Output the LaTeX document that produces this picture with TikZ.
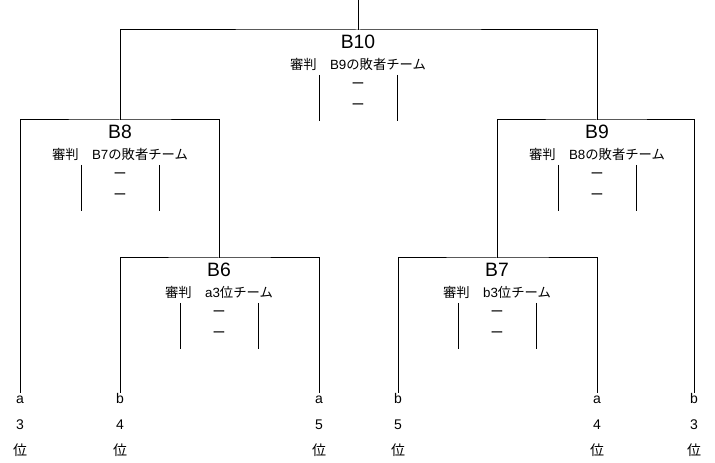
\documentclass[tikz,border=0pt]{standalone}
\usepackage{fontspec}
\setmainfont{Liberation Sans}
\newfontfamily\jp{Noto Sans CJK JP}
\usetikzlibrary{positioning}

\tikzset{
  game/.style={font=\fontsize{14.5}{16}\selectfont, inner sep=0pt},
  judge/.style={font=\fontsize{10}{11}\selectfont, inner sep=0pt},
  scoremark/.style={font=\jp\fontsize{10}{11}\selectfont, inner sep=0pt},
  team/.style={font=\fontsize{10.5}{19.5}\selectfont, align=center, inner sep=0pt, anchor=north},
  bracket/.style={line width=0.75pt}
}

\begin{document}
\begin{tikzpicture}[x=0.75pt, y=-0.75pt, bracket]
  \useasboundingbox (0,0) rectangle (715,463);

  % teams at the bottom
  \foreach \x/\l/\n/\name in {20/a/3/ta3, 120/b/4/tb4, 319/a/5/ta5, 398/b/5/tb5, 597/a/4/ta4, 694/b/3/tb3}
  \node[team] (\name) at (\x,393) {\vphantom{b}\l\\\n\\{\jp 位}};

  % games with judge and score box
  \foreach \g/\x/\y/\who/\tm in {10/358/30/B9/の敗者, 8/120/120/B7/の敗者, 9/597/120/B8/の敗者, 6/219/258/a3/位, 7/497/258/b3/位} {
    \coordinate (j\g) at (\x,\y);
    \node[game] (g\g) at (\x,\y+11.5) {B\g};
    \node[judge] (r\g) at (\x,\y+34) {{\jp 審判　}\who{\jp \tm チーム}};
    \node[scoremark] (s\g a) at (\x,\y+55.5) {ー};
    \node[scoremark] (s\g b) at (\x,\y+77) {ー};
    \draw (\x-39,\y+45) -- (\x-39,\y+91);
    \draw (\x+39,\y+45) -- (\x+39,\y+91);
  }

  \coordinate (champ) at (358,0);
  \draw (champ) -- (j10);
  \draw (j8) |- (j10) -| (j9);
  \draw (ta3.north) |- (j8) -| (j6);
  \draw (j7) |- (j9) -| (tb3.north);
  \draw (tb4.north) |- (j6) -| (ta5.north);
  \draw (tb5.north) |- (j7) -| (ta4.north);
\end{tikzpicture}
\end{document}
